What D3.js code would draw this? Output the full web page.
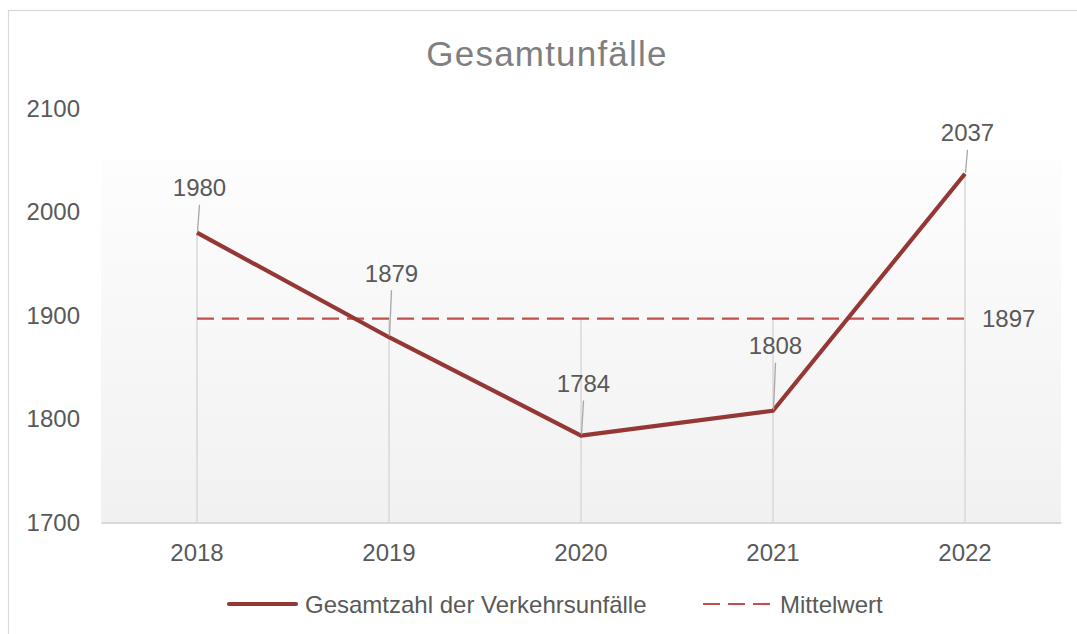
<!DOCTYPE html>
<html>
<head>
<meta charset="utf-8">
<script src="https://cdn.jsdelivr.net/npm/d3@7"></script>
<style>
  body { margin: 0; background: #fff; }
  text { font-family: "Liberation Sans", Arial, sans-serif; }
</style>
</head>
<body>
<div id="chart"></div>
<script>
// data
var years = ["2018", "2019", "2020", "2021", "2022"];
var accidents = [1980, 1879, 1784, 1808, 2037];
var meanValue = 1897;
var yTicks = [1700, 1800, 1900, 2000, 2100];
var seriesNames = ["Gesamtzahl der Verkehrsunfälle", "Mittelwert"];

// label placement (manual offsets like in the original sheet)
var labelLift = [45, 64, 52, 65, 41];

var W = 1077, H = 634;
var margin = {top: 108.5, right: 16, bottom: 111.5, left: 101},
    width = 960,
    height = H - margin.top - margin.bottom;

var svg = d3.select("#chart")
  .append("svg")
    .attr("width", W)
    .attr("height", H);

// outer frame
svg.append("rect")
  .attr("x", 8.5).attr("y", 10.5)
  .attr("width", W + 20).attr("height", H + 20)
  .attr("fill", "#fff")
  .attr("stroke", "#d9d9d9")
  .attr("stroke-width", 1.2);

// background gradient
var grad = svg.append("defs").append("linearGradient")
  .attr("id", "bg").attr("x1", 0).attr("y1", 0).attr("x2", 0).attr("y2", 1);
grad.append("stop").attr("offset", "0%").attr("stop-color", "#fdfdfd");
grad.append("stop").attr("offset", "100%").attr("stop-color", "#f1f1f1");

var g = svg.append("g")
  .attr("transform", "translate(" + margin.left + "," + margin.top + ")");

var x = d3.scaleBand()
  .domain(years)
  .range([0, width]);

var y = d3.scaleLinear()
  .domain([1700, 2100])
  .range([height, 0]);

function cx(d) { return x(d) + x.bandwidth() / 2; }

g.append("rect")
  .attr("x", 0)
  .attr("y", y(2050))
  .attr("width", width)
  .attr("height", height - y(2050))
  .attr("fill", "url(#bg)");

// title
svg.append("text")
  .attr("x", 547)
  .attr("y", 53)
  .attr("text-anchor", "middle")
  .attr("dominant-baseline", "central")
  .attr("fill", "#7f7f7f")
  .style("font-size", "35px")
  .style("letter-spacing", "1.2px")
  .text("Gesamtunfälle");

// y axis labels (no line)
var yAxis = g.append("g")
  .call(d3.axisLeft(y).tickValues(yTicks).tickSize(0).tickPadding(21).tickFormat(d3.format("d")));
yAxis.select(".domain").remove();
yAxis.selectAll("text")
  .attr("fill", "#595959")
  .style("font-size", "24px");

// x axis
var xAxis = g.append("g")
  .attr("transform", "translate(0," + height + ")")
  .call(d3.axisBottom(x).tickSize(0).tickPadding(21));
xAxis.select(".domain")
  .attr("stroke", "#d9d9d9")
  .attr("stroke-width", 2);
xAxis.selectAll("text")
  .attr("fill", "#595959")
  .style("font-size", "24px");

// drop lines
g.selectAll(".drop")
  .data(years)
  .enter()
  .append("line")
    .attr("x1", function(d) { return cx(d); })
    .attr("x2", function(d) { return cx(d); })
    .attr("y1", function(d, i) { return y(Math.max(accidents[i], meanValue)); })
    .attr("y2", height)
    .attr("stroke", "#d9d9d9")
    .attr("stroke-width", 1.5);

// mean line
g.append("line")
  .attr("x1", cx(years[0]))
  .attr("x2", cx(years[years.length - 1]))
  .attr("y1", y(meanValue))
  .attr("y2", y(meanValue))
  .attr("stroke", "#c0504d")
  .attr("stroke-width", 2.2)
  .attr("stroke-dasharray", "17,8");

g.append("text")
  .attr("x", cx(years[years.length - 1]) + 17)
  .attr("y", y(meanValue))
  .attr("dominant-baseline", "central")
  .attr("fill", "#595959")
  .style("font-size", "24px")
  .text(meanValue);

// main line
var line = d3.line()
  .x(function(d, i) { return cx(years[i]); })
  .y(function(d) { return y(d); });

g.append("path")
  .datum(accidents)
  .attr("d", line)
  .attr("fill", "none")
  .attr("stroke", "#953735")
  .attr("stroke-width", 4.2)
  .attr("stroke-linejoin", "round");

// data labels with leader lines
g.selectAll(".leader")
  .data(accidents)
  .enter()
  .append("line")
    .attr("x1", function(d, i) { return cx(years[i]) + 2.5; })
    .attr("y1", function(d, i) { return y(d) - labelLift[i] + 17; })
    .attr("x2", function(d, i) { return cx(years[i]) + 0.5; })
    .attr("y2", function(d) { return y(d) - 1; })
    .attr("stroke", "#a6a6a6")
    .attr("stroke-width", 1.3);

g.selectAll(".lbl")
  .data(accidents)
  .enter()
  .append("text")
    .attr("x", function(d, i) { return cx(years[i]) + 2.5; })
    .attr("y", function(d, i) { return y(d) - labelLift[i]; })
    .attr("text-anchor", "middle")
    .attr("dominant-baseline", "central")
    .attr("fill", "#595959")
    .style("font-size", "24px")
    .text(function(d) { return d; });

// legend
var legend = svg.append("g");
legend.append("line")
  .attr("x1", 229).attr("x2", 296)
  .attr("y1", 604).attr("y2", 604)
  .attr("stroke", "#953735")
  .attr("stroke-width", 4.2)
  .attr("stroke-linecap", "round");
legend.append("text")
  .attr("x", 305).attr("y", 604)
  .attr("dominant-baseline", "central")
  .attr("fill", "#595959")
  .style("font-size", "24px")
  .text(seriesNames[0]);
legend.append("line")
  .attr("x1", 703).attr("x2", 772)
  .attr("y1", 604).attr("y2", 604)
  .attr("stroke", "#c0504d")
  .attr("stroke-width", 2.2)
  .attr("stroke-dasharray", "17,8");
legend.append("text")
  .attr("x", 780).attr("y", 604)
  .attr("dominant-baseline", "central")
  .attr("fill", "#595959")
  .style("font-size", "24px")
  .text(seriesNames[1]);
</script>
</body>
</html>
